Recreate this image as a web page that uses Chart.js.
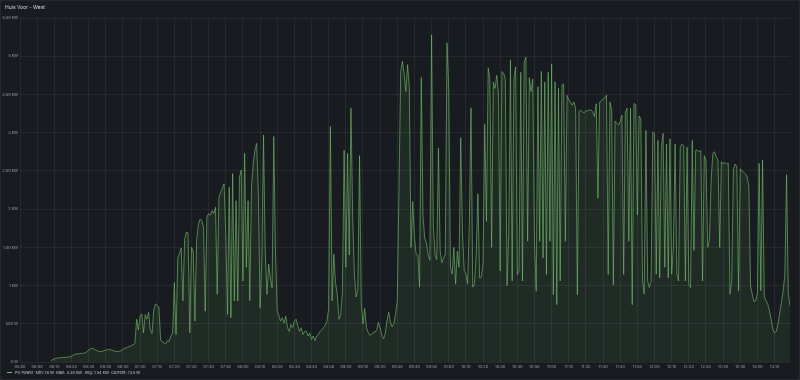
<!DOCTYPE html>
<html>
<head>
<meta charset="utf-8">
<script src="https://cdn.jsdelivr.net/npm/chart.js@4.4.1/dist/chart.umd.min.js"></script>
<style>
  html, body { margin:0; padding:0; background:#181b1f; }
  #panel { position:absolute; left:0; top:0; width:800px; height:380px; box-sizing:border-box;
           border:1px solid #25272c; background:#181b1f; font-family:Inter, "Noto Sans", sans-serif; }
  #title { position:absolute; left:4px; top:3px; font-size:5px; color:#d8d9e0; }
  #wrap { position:absolute; left:-1px; top:-1px; width:800px; height:372px; }
  #legend { position:absolute; left:6px; top:369px; font-size:4px; color:#c2c4cc; white-space:pre; }
  #legend .sw { display:inline-block; width:5px; height:1px; background:#73bf69; vertical-align:middle; margin-right:3px; }
</style>
</head>
<body>
<div id="panel">
  <div id="wrap"><canvas id="graph" width="800" height="372"></canvas></div>
  <div id="title">Huis Voor - West</div>
  <div id="legend"><span class="sw"></span>PV Power  Min: 18 W  Max: 4.30 kW  Avg: 1.54 kW  Current: 734 W</div>
</div>
<script>
// minutes since midnight of first sample, one sample per minute
const firstMinute = 368

// PV power (W) per minute, split by hour
const pv06 = [18,30,40,48,52,55,57,58,60,62,64,66,75,88,100,105,108,110,112,115,
  120,135,155,170,180,172,160,148,138,135,140,148,155,160,165,160,152,145,138,135,
  140,150,165,178,185,195,205,215,228,240,560,420]
const pv07 = [600,630,380,620,560,650,420,370,680,760, 740,720,290,260,250,240,280,270,340,380,
  1040,360,1360,1420,1490,800,1600,1700,1690,380, 1500,1450,535,1590,1800,1870,1850,1760,665,1900,
  1940,1920,1980,1940,2025,885,2150,2220,2280,2330, 1675,620,2290,580,2465,800,2110,800,2420,2510]
const pv08 = [1060,2730,1240,2110,800,2290,2600,2770,2860,2200, 710,1320,2970,1455,885,1280,1100,970,2950,1410,
  665,600,535,580,510,600,450,400,490,450, 535,560,470,400,450,360,400,400,340,380,
  295,340,280,340,360,400,420,450,480,535, 700,3080,800,1410,1040,885,560,620,900,2770]
const pv09 = [1240,2730,1400,3320,1900,1150,850,950,2700,760, 500,700,450,390,350,360,390,390,420,520,
  450,350,305,370,540,650,520,460,500,630, 800,2280,3800,3935,3760,3540,3890,3600,1500,2100,
  1630,1410,1400,980,3720,1900,1620,1560,1400,1330, 4280,1800,1400,1340,2800,1450,1300,1360,1410,4175]
const pv10 = [3590,1240,1150,1500,1020,1450,1240,2935,1700,1200, 1150,1020,1800,3325,980,1020,1410,2200,1100,1110,
  1300,3110,1840,3850,3700,1500,3660,3580,3750,3500, 1190,3800,3780,3700,1000,1660,3950,1060,3700,3860,
  1145,1200,3790,1060,3920,3990,1580,3720,3540,3700, 1580,925,3600,1580,3800,1360,3665,1145,3790,1580]
const pv11 = [3900,880,3665,750,3580,1060,3620,3640,1580,3490, 3430,3400,3360,3400,3320,880,3280,3295,3270,3260,
  3290,3280,3300,3295,3270,3210,3380,2140,3400,3420, 3440,3450,3490,1145,3400,3300,1010,3150,3120,3100,
  3145,3230,1145,3270,3320,1580,3320,750,3380,3370, 1925,3220,3180,1060,887,3030,1060,975,1060,3010]
const pv12 = [2990,1150,2900,1100,2810,2990,1240,2850,1100,2920, 1150,1500,2850,1150,1060,2810,2850,2830,1060,2810,
  1020,975,2900,1460,2770,2770,2750,2770,1060,2700, 2640,1500,1590,2370,2730,2750,2680,2640,1500,2620,
  2590,2610,2590,2600,887,1060,2520,2590,2550,930, 2530,2500,2480,2460,2420,2300,995,887,790,800]
const pv13 = [900,2600,930,2640,860,800,760,670,560,430, 380,400,500,640,780,930,1150,2450,900,734]

const power = [...pv06, ...pv07, ...pv08, ...pv09, ...pv10, ...pv11, ...pv12, ...pv13]

const axisStart = 350   // 05:50
const axisEnd = 799     // 13:19
const yTicks = [0,500,1000,1500,2000,2500,3000,3500,4000,4500]

function fmt_time(m){
    const h = Math.floor(m/60)
    const mm = m % 60
    return String(h).padStart(2,'0') + ':' + String(mm).padStart(2,'0')
}

function fmt_power(v){
    if (v < 1000) return v + ' W'
    const kw = v/1000
    return (Number.isInteger(kw) ? kw : kw.toFixed(2)) + ' kW'
}

const points = power.map((v,i)=>({x: firstMinute + i, y: v}))

const gridColor = 'rgba(204,204,220,0.08)'
const tickColor = 'rgba(204,204,220,0.7)'

const config = {
    type: 'line',
    data: {
        datasets: [{
            label: 'PV Power',
            data: points,
            borderColor: 'rgba(115,191,105,0.62)',
            backgroundColor: 'rgba(115,191,105,0.1)',
            borderWidth: 1,
            pointRadius: 0,
            tension: 0,
            fill: 'origin'
        }]
    },
    options: {
        responsive: false,
        animation: false,
        layout: { padding: { left: 0, right: 10, top: 18, bottom: 0 } },
        plugins: { legend: { display: false }, tooltip: { enabled: false } },
        scales: {
            x: {
                type: 'linear',
                min: axisStart,
                max: axisEnd,
                grid: { color: gridColor, drawTicks: false },
                border: { display: false },
                ticks: {
                    stepSize: 10,
                    autoSkip: false,
                    maxRotation: 0,
                    padding: 2,
                    color: tickColor,
                    font: { size: 4, family: 'Inter' },
                    callback: (v)=>fmt_time(v)
                },
                afterBuildTicks: (scale)=>{
                    scale.ticks = scale.ticks.filter(t=>t.value % 10 === 0)
                },
                afterFit: (scale)=>{ scale.height = 10 }
            },
            y: {
                min: 0,
                max: 4500,
                grid: { color: gridColor, drawTicks: false },
                border: { display: false },
                ticks: {
                    stepSize: 500,
                    padding: 2,
                    color: tickColor,
                    font: { size: 4, family: 'Inter' },
                    callback: (v)=>fmt_power(v)
                },
                afterBuildTicks: (scale)=>{
                    scale.ticks = yTicks.map(v=>({value: v}))
                },
                afterFit: (scale)=>{ scale.width = 20 }
            }
        }
    }
}

new Chart(document.getElementById('graph'), config)
</script>
</body>
</html>
